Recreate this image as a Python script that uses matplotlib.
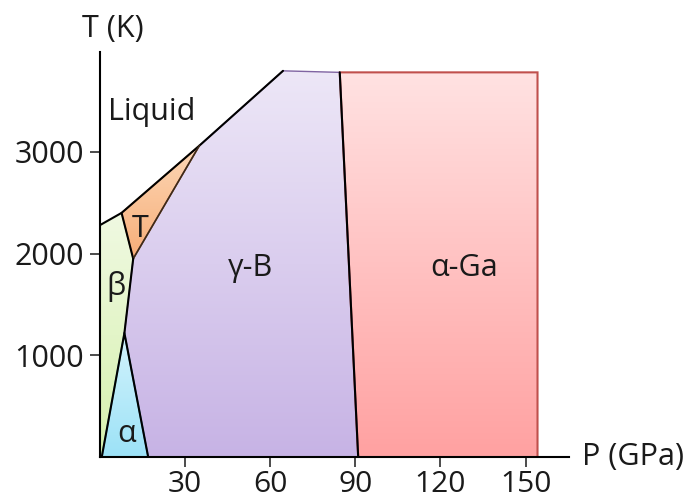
import numpy as np
from matplotlib import pyplot as plt
from matplotlib.patches import Polygon
from matplotlib.colors import LinearSegmentedColormap

""" Фазовая диаграмма бора: P (ГПа) - T (К) """

# вершины областей фаз (P в ГПа, T в К)
beta_p = [0, 0, 7.6, 11.7, 8.6, 0.6]
beta_t = [0, 2280, 2400, 1950, 1220, 0]

tetra_p = [7.6, 35, 11.7]
tetra_t = [2400, 3060, 1950]

alpha_p = [0.6, 8.6, 17]
alpha_t = [0, 1220, 0]

gamma_p = [11.7, 35, 64.5, 84.5, 91, 17, 8.6]
gamma_t = [1950, 3060, 3795, 3780, 0, 0, 1220]

aga_p = [84.5, 154.2, 154.2, 91]
aga_t = [3780, 3780, 0, 0]

# линия плавления
liquidus_p = [0, 7.6, 35, 64.5]
liquidus_t = [2280, 2400, 3060, 3795]

x_ticks = [30, 60, 90, 120, 150]
y_ticks = [1000, 2000, 3000]

# подписи фаз: (текст, P, T)
labels = [
    ("Liquid", 18.2, 3312),
    ("T", 14.1, 2166),
    ("β", 5.6, 1594),
    ("α", 9.2, 153),
    ("γ-B", 52.9, 1783),
    ("α-Ga", 128.2, 1783),
]


def gradient_fill(ax, p, t, top, bottom, edge=None, lw=0.0):
    """ заливка многоугольника вертикальным градиентом """
    poly = Polygon(np.column_stack([p, t]), closed=True, facecolor="none",
                   edgecolor=edge if edge else "none", linewidth=lw, zorder=3)
    ax.add_patch(poly)
    cmap = LinearSegmentedColormap.from_list("g", [bottom, top])
    grad = np.linspace(0, 1, 256)[:, None]
    im = ax.imshow(grad, cmap=cmap, origin="lower", aspect="auto",
                   interpolation="bilinear", zorder=2,
                   extent=[min(p), max(p), min(t), max(t)])
    im.set_clip_path(poly)


def main():
    plt.rcParams["font.family"] = ["Open Sans", "DejaVu Sans"]
    fig = plt.figure(figsize=(6.84, 5.01), dpi=100)
    ax = fig.add_axes([0.1462, 0.0872, 0.6861, 0.8084])

    gradient_fill(ax, aga_p, aga_t, "#FFE2E2", "#FFA1A1", "#C0504D", 1.5)
    gradient_fill(ax, gamma_p, gamma_t, "#EDE7F7", "#C7B3E5", "#8064A2", 1.0)
    gradient_fill(ax, beta_p, beta_t, "#F0F9E2", "#D6F1AE")
    gradient_fill(ax, tetra_p, tetra_t, "#FCD7B6", "#F8AE78", "#E07B2A", 1.0)
    gradient_fill(ax, alpha_p, alpha_t, "#D4F3FC", "#9CE2F7", "#4BACC6", 1.2)

    # границы фаз
    lk = dict(color="black", lw=1.5, zorder=4, solid_capstyle="round")
    ax.plot(liquidus_p, liquidus_t, **lk)
    ax.plot([tetra_p[0], tetra_p[2]], [tetra_t[0], tetra_t[2]], **lk)
    ax.plot([tetra_p[2], tetra_p[1]], [tetra_t[2], tetra_t[1]],
            color="#3a2a1a", lw=1.2, zorder=4)
    ax.plot([tetra_p[2], beta_p[4]], [tetra_t[2], beta_t[4]], **lk)
    ax.plot(alpha_p, alpha_t, **lk)
    ax.plot([gamma_p[3], gamma_p[4]], [gamma_t[3], gamma_t[4]], **lk)

    for text, p, t in labels:
        ax.text(p, t, text, fontsize=22, ha="center", va="baseline",
                color="#1a1a1a", zorder=5)

    ax.set_xlim(0, 165.4)
    ax.set_ylim(0, 3977)
    ax.set_xticks(x_ticks)
    ax.set_yticks(y_ticks)
    ax.tick_params(direction="out", length=7.5, width=1.1, labelsize=22,
                   pad=4, colors="#1a1a1a")
    ax.tick_params(axis="x", labelsize=21.5, pad=1.5)
    for side in ("top", "right"):
        ax.spines[side].set_visible(False)
    for side in ("left", "bottom"):
        ax.spines[side].set_linewidth(1.5)
        ax.spines[side].set_zorder(6)

    fig.text(0.8504, 0.0872, "P (GPa)", fontsize=22, ha="left", va="center",
             color="#1a1a1a")
    fig.text(0.165, 0.942, "T (K)", fontsize=22, ha="center", va="center",
             color="#1a1a1a")

    fig.savefig("out.png", dpi=100)


if __name__ == "__main__":
    main()
